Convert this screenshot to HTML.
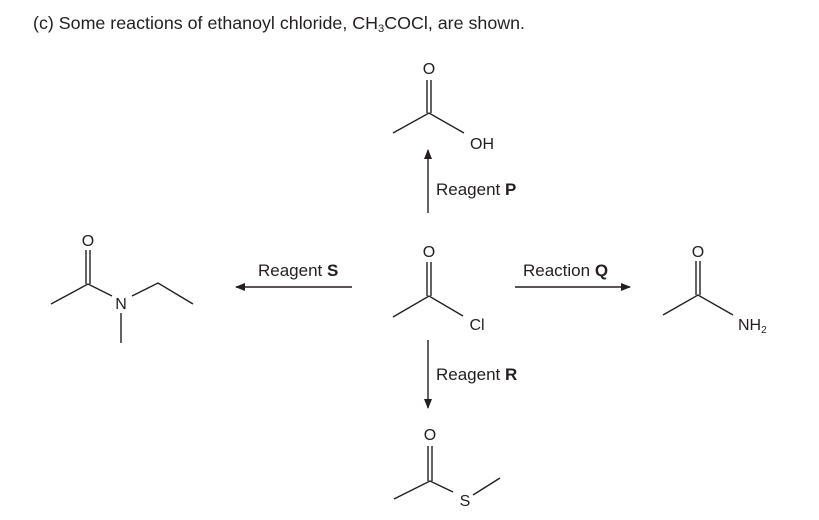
<!DOCTYPE html>
<html><head><meta charset="utf-8"><style>
html,body{margin:0;padding:0;background:#fff;}
svg{display:block;}
text{font-family:"Liberation Sans",sans-serif;fill:#231f20;}
</style></head><body>
<svg width="819" height="520" viewBox="0 0 819 520" xmlns="http://www.w3.org/2000/svg">
<defs><marker id="ah" markerWidth="10" markerHeight="8" refX="9" refY="4" orient="auto" markerUnits="userSpaceOnUse"><path d="M0,0 L10,4 L0,8 Z" fill="#231f20"/></marker></defs>
<text x="33" y="29" font-size="17.5" textLength="492" lengthAdjust="spacingAndGlyphs">(c)  Some reactions of ethanoyl chloride, CH<tspan font-size="11" dy="3">3</tspan><tspan dy="-3">COCl, are shown.</tspan></text>
<g stroke="#231f20" stroke-width="1.4" fill="none">
<line x1="427" y1="80" x2="427" y2="113"/><line x1="431" y1="80" x2="431" y2="113"/>
<polyline points="393,133 429,113 464,133"/>
<line x1="427" y1="262" x2="427" y2="296"/><line x1="431" y1="262" x2="431" y2="296"/>
<polyline points="393,317 429,296 463,316"/>
<line x1="696" y1="261" x2="696" y2="295"/><line x1="700" y1="261" x2="700" y2="295"/>
<polyline points="663,315 698,295 733,315"/>
<line x1="86" y1="250" x2="86" y2="284"/><line x1="90" y1="250" x2="90" y2="284"/>
<polyline points="51,304 88,284 112,296"/>
<polyline points="132,296 158,283 193,304"/>
<line x1="121" y1="313" x2="121" y2="343"/>
<line x1="428" y1="446" x2="428" y2="481"/><line x1="432" y1="446" x2="432" y2="481"/>
<polyline points="394,499 430,481 453,492"/>
<line x1="473" y1="495" x2="500" y2="478"/>
<line x1="428" y1="213" x2="428" y2="150" marker-end="url(#ah)"/>
<line x1="428" y1="340" x2="428" y2="408" marker-end="url(#ah)"/>
<line x1="352" y1="287" x2="236" y2="287" marker-end="url(#ah)"/>
<line x1="515" y1="287" x2="630" y2="287" marker-end="url(#ah)"/>
</g>
<g font-size="16" text-anchor="middle">
<text x="429" y="74">O</text>
<text x="429" y="257">O</text>
<text x="698" y="257">O</text>
<text x="88" y="246">O</text>
<text x="430" y="440">O</text>
<text x="121" y="309">N</text>
<text x="465" y="506">S</text>
<text x="477" y="330">Cl</text>
<text x="482" y="149">OH</text>
</g>
<text x="738" y="330" font-size="16">NH<tspan font-size="10" dy="3">2</tspan></text>
<g font-size="17">
<text x="436" y="195">Reagent <tspan font-weight="bold">P</tspan></text>
<text x="436" y="380">Reagent <tspan font-weight="bold">R</tspan></text>
<text x="258" y="276">Reagent <tspan font-weight="bold">S</tspan></text>
<text x="523" y="276">Reaction <tspan font-weight="bold">Q</tspan></text>
</g>
</svg>
</body></html>
